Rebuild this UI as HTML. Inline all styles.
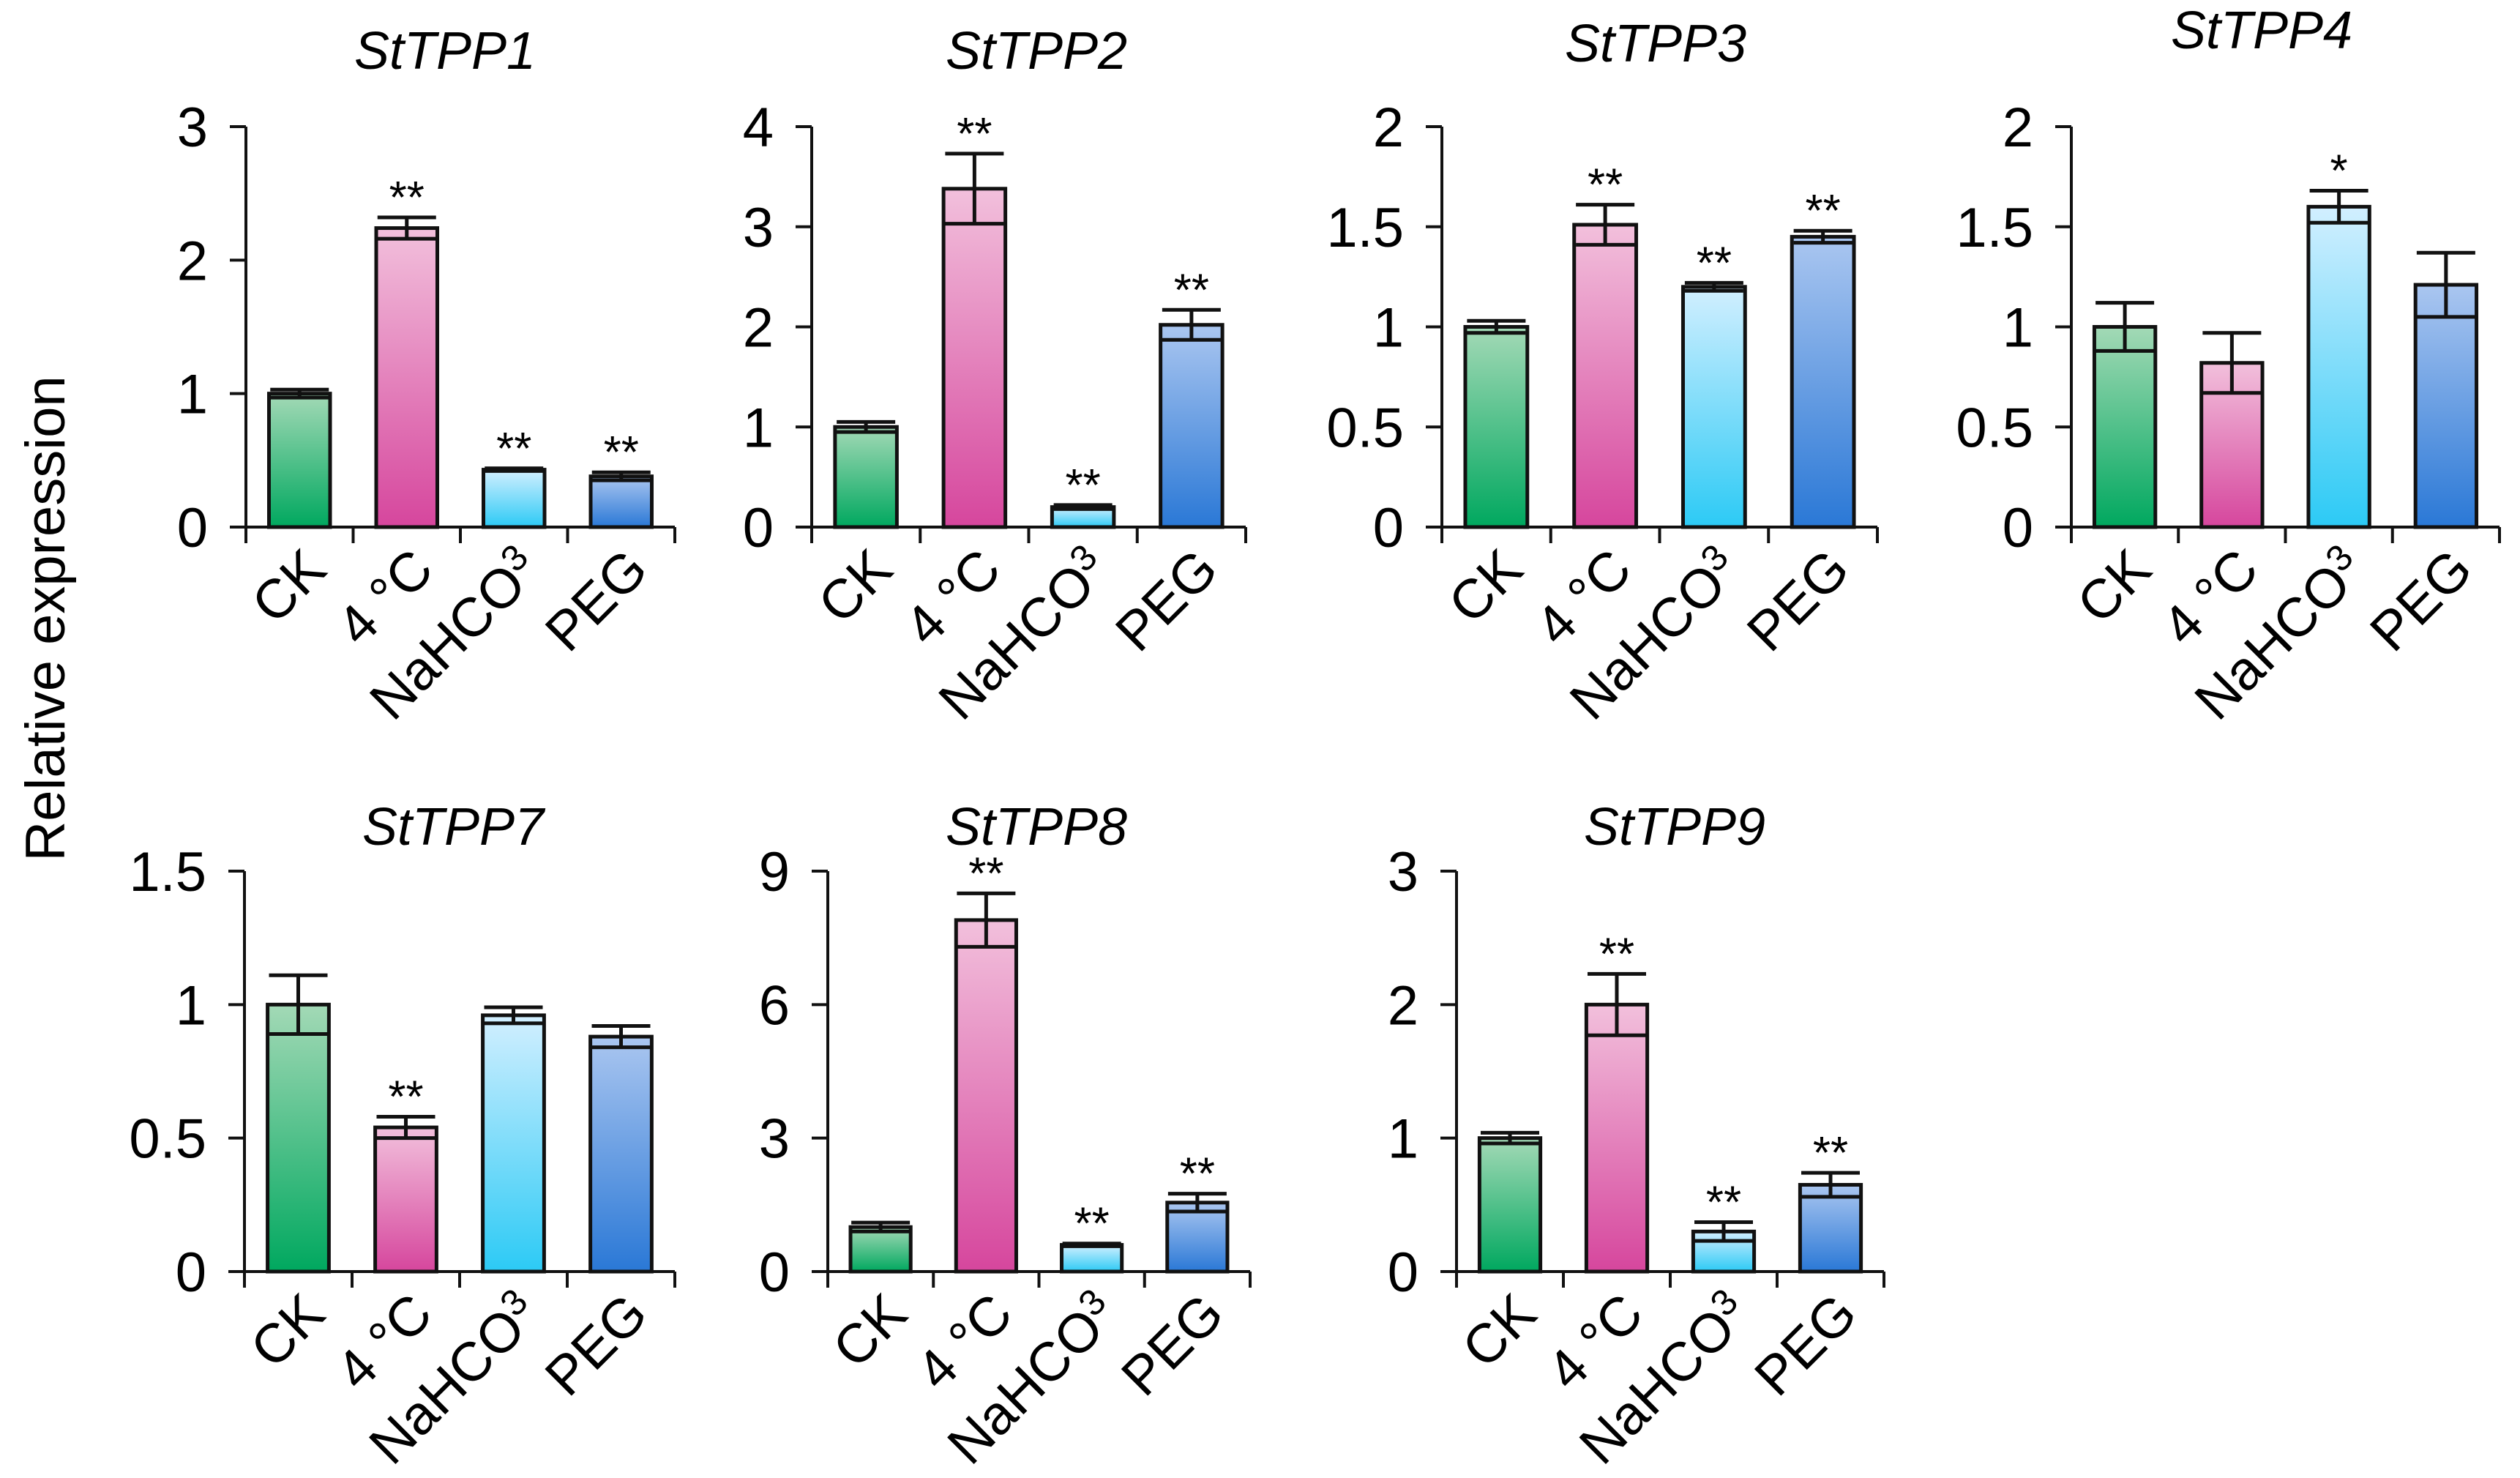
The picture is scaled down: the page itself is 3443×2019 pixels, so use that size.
<!DOCTYPE html>
<html><head><meta charset="utf-8"><style>
html,body{margin:0;padding:0;background:#fff;}
svg{display:block;font-family:"Liberation Sans",Arial,sans-serif;}
</style></head><body>
<svg id="chart" width="3443" height="2019" viewBox="0 0 3443 2019" xmlns="http://www.w3.org/2000/svg">
<defs>
<linearGradient id="gCK" x1="0" y1="0" x2="0" y2="1"><stop offset="0" stop-color="#a3d9b6"/><stop offset="1" stop-color="#00a85f"/></linearGradient>
<linearGradient id="g4C" x1="0" y1="0" x2="0" y2="1"><stop offset="0" stop-color="#f2c0dc"/><stop offset="1" stop-color="#d6469d"/></linearGradient>
<linearGradient id="gNa" x1="0" y1="0" x2="0" y2="1"><stop offset="0" stop-color="#d2efff"/><stop offset="1" stop-color="#2ccaf5"/></linearGradient>
<linearGradient id="gPEG" x1="0" y1="0" x2="0" y2="1"><stop offset="0" stop-color="#aac6f0"/><stop offset="1" stop-color="#2a78d6"/></linearGradient>
</defs>
<text x="0" y="0" transform="translate(88,845) rotate(-90)" text-anchor="middle" font-size="76">Relative expression</text>
</svg>
<script>
const categories = ["CK","4 \u00b0C","NaHCO3","PEG"];
const titles = ["StTPP1","StTPP2","StTPP3","StTPP4","StTPP7","StTPP8","StTPP9"];
const values1 = [1.0,2.24,0.43,0.38];
const errors1 = [0.03,0.08,0.01,0.03];
const stars1 = ["","**","**","**"];
const values2 = [1.0,3.38,0.2,2.02];
const errors2 = [0.05,0.35,0.02,0.15];
const stars2 = ["","**","**","**"];
const values3 = [1.0,1.51,1.2,1.45];
const errors3 = [0.03,0.1,0.02,0.03];
const stars3 = ["","**","**","**"];
const values4 = [1.0,0.82,1.6,1.21];
const errors4 = [0.12,0.15,0.08,0.16];
const stars4 = ["","","*",""];
const values7 = [1.0,0.54,0.96,0.88];
const errors7 = [0.11,0.04,0.03,0.04];
const stars7 = ["","**","",""];
const values8 = [1.0,7.9,0.6,1.55];
const errors8 = [0.1,0.6,0.03,0.2];
const stars8 = ["","**","**","**"];
const values9 = [1.0,2.0,0.3,0.65];
const errors9 = [0.04,0.23,0.07,0.09];
const stars9 = ["","**","**","**"];
const ticks1 = [0,1,2,3];
const ticks2 = [0,1,2,3,4];
const ticks3 = [0,0.5,1,1.5,2];
const ticks4 = [0,0.5,1,1.5,2];
const ticks7 = [0,0.5,1,1.5];
const ticks8 = [0,3,6,9];
const ticks9 = [0,1,2,3];

const fills = ["url(#gCK)","url(#g4C)","url(#gNa)","url(#gPEG)"];
const NS = "http://www.w3.org/2000/svg";
const svg = document.getElementById("chart");
function mk(tag, attrs, parent){
  const e = document.createElementNS(NS, tag);
  for (const k in attrs) e.setAttribute(k, attrs[k]);
  (parent||svg).appendChild(e);
  return e;
}
const panels = [
  {t:0, v:values1, e:errors1, s:stars1, ticks:ticks1, x0:336, x1:922, top:173, zero:720, ty:94, tx:608},
  {t:1, v:values2, e:errors2, s:stars2, ticks:ticks2, x0:1109, x1:1702, top:173, zero:720, ty:94, tx:1416},
  {t:2, v:values3, e:errors3, s:stars3, ticks:ticks3, x0:1970, x1:2565, top:173, zero:720, ty:84, tx:2262},
  {t:3, v:values4, e:errors4, s:stars4, ticks:ticks4, x0:2830, x1:3415, top:173, zero:720, ty:66, tx:3090},
  {t:4, v:values7, e:errors7, s:stars7, ticks:ticks7, x0:334, x1:922, top:1190, zero:1737, ty:1154, tx:619},
  {t:5, v:values8, e:errors8, s:stars8, ticks:ticks8, x0:1131, x1:1708, top:1190, zero:1737, ty:1154, tx:1416},
  {t:6, v:values9, e:errors9, s:stars9, ticks:ticks9, x0:1990, x1:2574, top:1190, zero:1737, ty:1154, tx:2288}
];
panels.forEach(p => {
  const g = mk("g", {});
  
  
  const ymax = p.ticks[p.ticks.length-1];
  const y = v => p.zero - (v/ymax)*(p.zero - p.top);
  const step = (p.x1 - p.x0)/categories.length;
  const xc = i => p.x0 + step*(i+0.5);
  const bw = step*0.57;
  const tt = mk("text", {x:p.tx, y:p.ty, "text-anchor":"middle", "font-size":72, "font-style":"italic"}, g);
  tt.textContent = titles[p.t];
  
  
  p.v.forEach((v,i) => {
    const r = mk("rect", {x:xc(i)-bw/2, y:y(v), width:bw, height:p.zero-y(v), fill:fills[i], stroke:"#111", "stroke-width":5}, g);
    
    
    const hi = y(v+p.e[i]), lo = y(v-p.e[i]), cx = xc(i), cw = 40;
    const eb = mk("path", {d:`M${cx},${hi}V${lo}M${cx-cw},${hi}H${cx+cw}M${cx-cw},${lo}H${cx+cw}`, stroke:"#111", "stroke-width":5, fill:"none"}, g);
    
    
    if (p.s[i]) {
      const st = mk("text", {x:cx, y:hi-6, "text-anchor":"middle", "font-size":62}, g);
      st.textContent = p.s[i];
      
      
    }
  });
  const ya = mk("line", {x1:p.x0, y1:p.top, x2:p.x0, y2:p.zero+22, stroke:"#111", "stroke-width":4}, g);
  
  
  const xa = mk("line", {x1:p.x0-22, y1:p.zero, x2:p.x1, y2:p.zero, stroke:"#111", "stroke-width":4}, g);
  
  
  for (let i=1;i<=categories.length;i++){
    mk("line", {x1:p.x0+step*i, y1:p.zero, x2:p.x0+step*i, y2:p.zero+22, stroke:"#111", "stroke-width":4}, g);
  }
  p.ticks.forEach(t => {
    mk("line", {x1:p.x0-22, y1:y(t), x2:p.x0, y2:y(t), stroke:"#111", "stroke-width":4}, g);
    const tl = mk("text", {x:p.x0-52, y:y(t)+27, "text-anchor":"end", "font-size":76}, g);
    tl.textContent = String(t);
    
    
  });
  categories.forEach((c,i) => {
    const lx = xc(i)+40, ly = p.zero+62;
    const cl = mk("text", {x:0, y:0, transform:`translate(${lx},${ly}) rotate(-45)`, "text-anchor":"end", "font-size":75}, g);
    
    
    if (c === "NaHCO3") {
      cl.appendChild(document.createTextNode("NaHCO"));
      const ts = mk("tspan", {"font-size":50, dy:-25}, cl);
      ts.textContent = "3";
    } else cl.textContent = c;
  });
});
</script>
</body></html>
